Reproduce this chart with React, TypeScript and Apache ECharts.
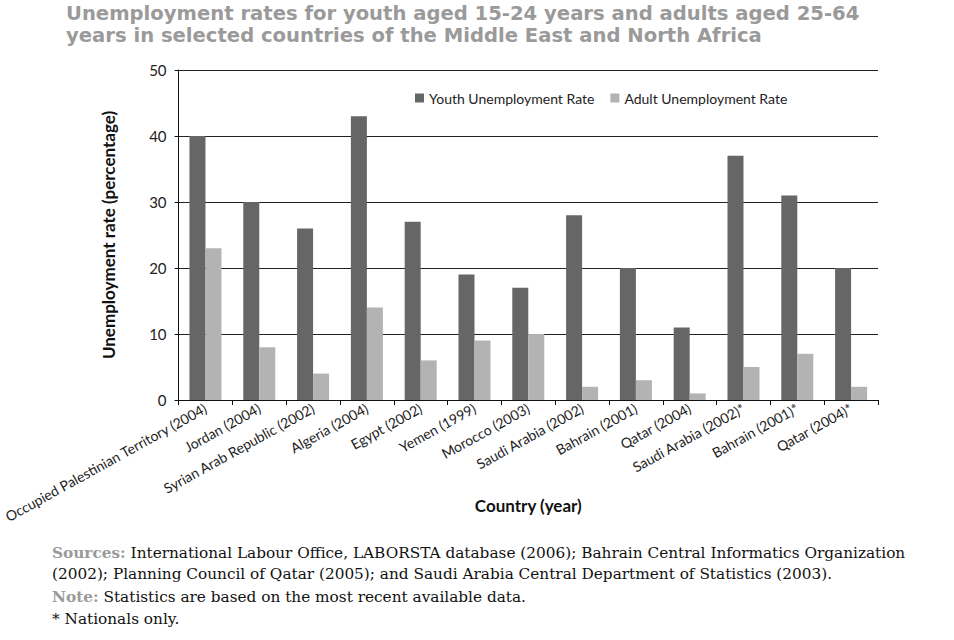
import React, { useEffect, useRef } from "react";
import * as echarts from "echarts";

const categories = [
  "Occupied Palestinian Territory (2004)",
  "Jordan (2004)",
  "Syrian Arab Republic (2002)",
  "Algeria (2004)",
  "Egypt (2002)",
  "Yemen (1999)",
  "Morocco (2003)",
  "Saudi Arabia (2002)",
  "Bahrain (2001)",
  "Qatar (2004)",
  "Saudi Arabia (2002)*",
  "Bahrain (2001)*",
  "Qatar (2004)*",
];
const youthRate = [40, 30, 26, 43, 27, 19, 17, 28, 20, 11, 37, 31, 20];
const adultRate = [23, 8, 4, 14, 6, 9, 10, 2, 3, 1, 5, 7, 2];
const yTicks = { min: 0, max: 50, interval: 10 };

const titleLines = [
  "Unemployment rates for youth aged 15-24 years and adults aged 25-64",
  "years in selected countries of the Middle East and North Africa",
];
const footerSources1 =
  " International Labour Office, LABORSTA database (2006); Bahrain Central Informatics Organization";
const footerSources2 =
  "(2002); Planning Council of Qatar (2005); and Saudi Arabia Central Department of Statistics (2003).";
const footerNote = " Statistics are based on the most recent available data.";
const footerStar = "* Nationals only.";

export default function App() {
  const ref = useRef<HTMLDivElement>(null);
  useEffect(() => {
    if (!ref.current) return;
    const chart = echarts.init(ref.current, undefined, { renderer: "svg" });
    const serif = "'DejaVu Serif', serif";
    const sans = "Lato, 'Noto Sans', sans-serif";
    const titleFont = "'DejaVu Sans', sans-serif";
    const footFont = `15.3px ${serif}`;
    const boldRich = {
      b: { fontFamily: serif, fontSize: 15.3, fontWeight: "bold", fill: "#9a9a9a", color: "#9a9a9a" },
    };
    const titleStyle = {
      fontFamily: titleFont,
      fontWeight: "bold",
      fontSize: 19.6,
      lineHeight: 20,
      color: "#9a9a9a",
    };
    chart.setOption({
      animation: false,
      backgroundColor: "#ffffff",
      title: [
        { text: titleLines[0], left: 66, top: 3, padding: 0, textStyle: titleStyle },
        { text: titleLines[1], left: 66, top: 25, padding: 0, textStyle: titleStyle },
      ],
      legend: {
        top: 86,
        left: 410,
        itemWidth: 9,
        itemHeight: 9,
        itemGap: 16,
        icon: "rect",
        textStyle: { fontFamily: sans, fontSize: 14, color: "#222" },
        data: ["Youth Unemployment Rate", "Adult Unemployment Rate"],
      },
      grid: { left: 168, right: 76, top: 70, bottom: 240, containLabel: false },
      xAxis: {
        type: "category",
        data: categories,
        name: "Country (year)",
        nameLocation: "middle",
        nameGap: 97,
        nameMoveOverlap: false,
        nameTextStyle: { fontFamily: sans, fontWeight: "bold", fontSize: 17, color: "#111" },
        axisLine: { lineStyle: { color: "#111", width: 1 } },
        axisTick: { show: true, alignWithLabel: false, length: 5, lineStyle: { color: "#111" } },
        axisLabel: {
          rotate: 29,
          interval: 0,
          margin: 7,
          fontFamily: sans,
          fontSize: 14,
          color: "#222",
        },
      },
      yAxis: {
        type: "value",
        min: yTicks.min,
        max: yTicks.max,
        interval: yTicks.interval,
        name: "Unemployment rate (percentage)",
        nameLocation: "middle",
        nameGap: 62,
        nameTextStyle: { fontFamily: sans, fontWeight: "bold", fontSize: 17, color: "#111" },
        axisLine: { show: true, lineStyle: { color: "#111", width: 1 } },
        axisTick: { show: true, length: 4, lineStyle: { color: "#111" } },
        axisLabel: { fontFamily: sans, fontSize: 15, color: "#222", margin: 12 },
        splitLine: { show: true, lineStyle: { color: "#222", width: 1 } },
      },
      series: [
        {
          name: "Youth Unemployment Rate",
          type: "bar",
          data: youthRate,
          barWidth: 16,
          barGap: "0%",
          itemStyle: { color: "#666666" },
        },
        {
          name: "Adult Unemployment Rate",
          type: "bar",
          data: adultRate,
          barWidth: 16,
          barGap: "0%",
          itemStyle: { color: "#b3b3b3" },
        },
      ],
      graphic: [
        {
          type: "text",
          left: 52,
          top: 545,
          style: { text: "{b|Sources:}" + footerSources1, font: footFont, fill: "#111", rich: boldRich },
        },
        {
          type: "text",
          left: 52,
          top: 566,
          style: { text: footerSources2, font: footFont, fill: "#111" },
        },
        {
          type: "text",
          left: 52,
          top: 589,
          style: { text: "{b|Note:}" + footerNote, font: footFont, fill: "#111", rich: boldRich },
        },
        {
          type: "text",
          left: 52,
          top: 611,
          style: { text: footerStar, font: footFont, fill: "#111" },
        },
      ],
    });
    return () => chart.dispose();
  }, []);
  return (
    <div
      ref={ref}
      style={{ position: "absolute", left: 0, top: 0, width: 954, height: 640 }}
    />
  );
}
